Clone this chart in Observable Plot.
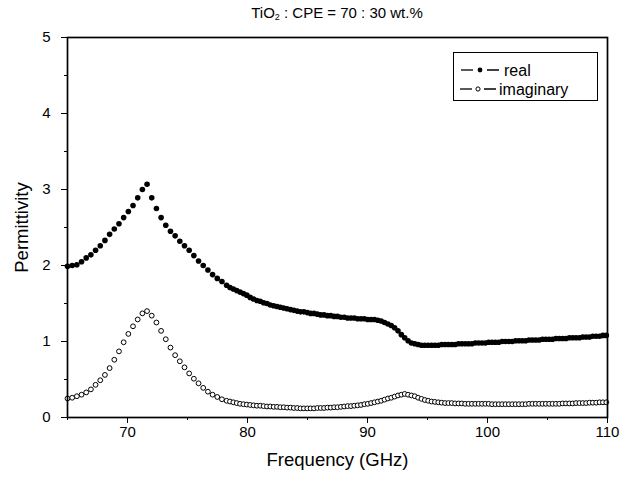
<!DOCTYPE html>
<html><head><meta charset="utf-8">
<script src="https://cdn.jsdelivr.net/npm/d3@7"></script>
<script src="https://cdn.jsdelivr.net/npm/@observablehq/plot@0.6"></script>
<style>
body{margin:0;background:#fff;font-family:"Liberation Sans",Arial,sans-serif;color:#000;}
#wrap{position:relative;width:629px;height:479px;overflow:hidden;}
#title{height:24px;line-height:25px;font-size:15px;padding-left:67px;width:540px;text-align:center;}
#title sub{font-size:9px;vertical-align:-2px;line-height:0;}
#legend{position:absolute;left:453px;top:52px;width:143px;height:47px;border:1px solid #000;background:#fff;}
</style></head>
<body>
<div id="wrap">
<div id="title">TiO<sub>2</sub> : CPE = 70 : 30 wt.%</div>
<div id="chart"></div>
<div id="legend"></div>
</div>
<script>
const freq = [
65.00,65.39,65.78,66.17,66.56,66.95,67.34,67.73,68.12,68.51,
68.90,69.29,69.68,70.07,70.46,70.85,71.24,71.63,72.02,72.41,
72.80,73.19,73.58,73.97,74.36,74.75,75.14,75.53,75.92,76.31,
76.70,77.09,77.48,77.87,78.26,78.54,78.82,79.10,79.38,79.66,
79.94,80.22,80.50,80.78,81.06,81.34,81.62,81.90,82.18,82.46,
82.74,83.02,83.30,83.58,83.86,84.14,84.42,84.70,84.98,85.26,
85.54,85.82,86.10,86.38,86.66,86.94,87.22,87.50,87.78,88.06,
88.34,88.62,88.90,89.18,89.46,89.74,90.02,90.30,90.58,90.86,
91.14,91.42,91.70,91.98,92.26,92.54,92.82,93.10,93.38,93.66,
93.94,94.22,94.50,94.78,95.06,95.34,95.62,95.90,96.18,96.46,
96.74,97.02,97.30,97.58,97.86,98.14,98.42,98.70,98.98,99.26,
99.54,99.82,100.10,100.38,100.66,100.94,101.22,101.50,101.78,102.06,
102.34,102.62,102.90,103.18,103.46,103.74,104.02,104.30,104.58,104.86,
105.14,105.42,105.70,105.98,106.26,106.54,106.82,107.10,107.38,107.66,
107.94,108.22,108.50,108.78,109.06,109.34,109.62,109.90];

const realPart = [
1.99,2.00,2.01,2.05,2.10,2.14,2.20,2.26,2.33,2.41,
2.48,2.55,2.63,2.71,2.79,2.89,3.00,3.07,2.89,2.75,
2.63,2.53,2.45,2.39,2.32,2.26,2.20,2.13,2.06,2.00,
1.94,1.88,1.83,1.79,1.74,1.71,1.69,1.67,1.65,1.63,
1.61,1.58,1.56,1.54,1.53,1.51,1.50,1.48,1.47,1.46,
1.45,1.44,1.43,1.42,1.41,1.40,1.39,1.39,1.38,1.37,
1.37,1.36,1.35,1.35,1.34,1.34,1.33,1.33,1.32,1.32,
1.31,1.31,1.31,1.30,1.30,1.30,1.29,1.29,1.29,1.28,
1.27,1.25,1.23,1.21,1.18,1.14,1.09,1.05,1.01,0.98,
0.97,0.96,0.95,0.95,0.95,0.95,0.95,0.95,0.96,0.96,
0.96,0.96,0.96,0.97,0.97,0.97,0.97,0.97,0.98,0.98,
0.98,0.98,0.99,0.99,0.99,0.99,1.00,1.00,1.00,1.00,
1.01,1.01,1.01,1.01,1.02,1.02,1.02,1.02,1.03,1.03,
1.03,1.03,1.04,1.04,1.04,1.04,1.05,1.05,1.05,1.05,
1.06,1.06,1.06,1.07,1.07,1.07,1.08,1.08];

const imagPart = [
0.25,0.26,0.28,0.30,0.33,0.37,0.43,0.49,0.56,0.65,
0.76,0.87,0.99,1.10,1.20,1.29,1.37,1.40,1.34,1.25,
1.14,1.03,0.92,0.82,0.74,0.66,0.58,0.51,0.45,0.39,
0.34,0.30,0.27,0.24,0.22,0.21,0.20,0.19,0.18,0.175,
0.17,0.165,0.16,0.155,0.155,0.15,0.145,0.145,0.14,0.14,
0.135,0.135,0.13,0.13,0.125,0.125,0.12,0.12,0.12,0.12,
0.12,0.125,0.125,0.125,0.13,0.13,0.135,0.135,0.14,0.145,
0.15,0.15,0.155,0.16,0.165,0.175,0.18,0.19,0.20,0.21,
0.22,0.235,0.25,0.26,0.275,0.29,0.30,0.31,0.30,0.29,
0.28,0.26,0.245,0.23,0.22,0.21,0.205,0.20,0.195,0.19,
0.19,0.19,0.185,0.185,0.185,0.18,0.18,0.18,0.18,0.18,
0.18,0.18,0.18,0.175,0.175,0.175,0.175,0.175,0.175,0.175,
0.175,0.175,0.175,0.175,0.18,0.18,0.18,0.18,0.18,0.18,
0.18,0.18,0.18,0.18,0.185,0.185,0.185,0.185,0.19,0.19,
0.19,0.19,0.195,0.195,0.195,0.20,0.20,0.20];

const xMajorTicks = [70, 80, 90, 100, 110];
const xMinorTicks = [65, 75, 85, 95, 105];
const yMajorTicks = [0, 1, 2, 3, 4, 5];
const yMinorTicks = [0.5, 1.5, 2.5, 3.5, 4.5];
const seriesNames = ["real", "imaginary"];
const xTitle = "Frequency (GHz)";
const yTitle = "Permittivity";

const realData = freq.map((f, i) => ({f, v: realPart[i]}));
const imagData = freq.map((f, i) => ({f, v: imagPart[i]}));

const chart = Plot.plot({
  width: 629, height: 455,
  marginLeft: 67, marginRight: 22, marginTop: 13, marginBottom: 62,
  x: {domain: [65, 110]},
  y: {domain: [0, 5]},
  style: {fontFamily: "Liberation Sans, Arial, sans-serif", fontSize: "15px", color: "#000", background: "#fff", overflow: "visible"},
  marks: [
    Plot.axisX(xMajorTicks, {tickSize: 6, tickPadding: 3, fontSize: 15, label: null, tickFormat: d => String(d)}),
    Plot.axisX(xMinorTicks, {tickSize: 3, tickFormat: () => "", label: null}),
    Plot.axisY(yMajorTicks, {tickSize: 6, tickPadding: 11, fontSize: 15, label: null, tickFormat: d => String(d)}),
    Plot.axisY(yMinorTicks, {tickSize: 3, tickFormat: () => "", label: null}),
    Plot.dot(imagData, {x: "f", y: "v", r: 2.4, fill: "#fff", stroke: "#000", strokeWidth: 1}),
    Plot.dot(realData, {x: "f", y: "v", r: 2.8, fill: "#000", stroke: "none"}),
    Plot.frame({stroke: "#000", strokeWidth: 1.7}),
    Plot.text([xTitle], {text: d => d, frameAnchor: "bottom", textAnchor: "middle", dy: 48, fontSize: 18.5}),
    Plot.text([yTitle], {text: d => d, frameAnchor: "left", textAnchor: "middle", dx: -45, rotate: -90, fontSize: 18.5})
  ]
});
document.getElementById("chart").appendChild(chart);

// legend
const lg = d3.select("#legend").append("svg").attr("width", 143).attr("height", 47)
  .style("font-family", "Liberation Sans, Arial, sans-serif");
const legendLayout = [
  {d1: [7, 19], m: 26, d2: [33, 45], t: 50},
  {d1: [6, 18], m: 24, d2: [30, 42], t: 45}
];
seriesNames.forEach((name, i) => {
  const L = legendLayout[i];
  const cy = 17 + i * 19;
  const g = lg.append("g");
  g.append("line").attr("x1", L.d1[0]).attr("x2", L.d1[1]).attr("y1", cy).attr("y2", cy).attr("stroke", "#000").attr("stroke-width", 1.3);
  g.append("line").attr("x1", L.d2[0]).attr("x2", L.d2[1]).attr("y1", cy).attr("y2", cy).attr("stroke", "#000").attr("stroke-width", 1.5);
  if (i === 0) g.append("circle").attr("cx", L.m).attr("cy", cy).attr("r", 2.4).attr("fill", "#000");
  else g.append("circle").attr("cx", L.m).attr("cy", cy).attr("r", 2.1).attr("fill", "#fff").attr("stroke", "#000");
  g.append("text").attr("x", L.t).attr("y", cy).attr("dy", "0.35em").attr("font-size", 16).text(name);
});
</script>
</body></html>
